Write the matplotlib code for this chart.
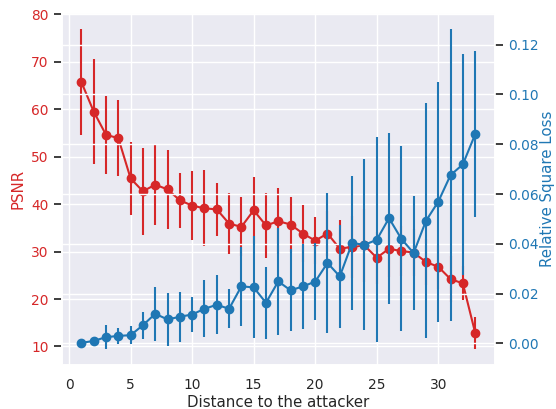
"""
PSNR and relative square loss vs. distance to the attacker (twin y axes).
"""
import matplotlib
matplotlib.use("Agg")
import matplotlib.pyplot as plt
import seaborn as sns

distance = list(range(1, 34))

psnr_mean = [65.7, 59.5, 54.6, 53.9, 45.4, 42.7, 44.1, 43.1, 40.8, 39.7,
             39.1, 38.9, 35.9, 35.2, 38.7, 35.5, 36.4, 35.7, 33.8, 32.3,
             33.8, 30.6, 31.0, 31.3, 28.7, 30.6, 30.1, 29.8, 27.8, 26.8,
             24.2, 23.3, 12.9]
psnr_std = [11.1, 11.0, 8.2, 8.0, 7.7, 9.2, 8.4, 8.4, 5.8, 7.2,
            8.0, 5.6, 6.5, 6.2, 7.0, 6.9, 6.9, 5.8, 6.1, 5.0,
            4.8, 6.0, 6.5, 7.7, 5.5, 6.0, 5.3, 5.0, 4.8, 4.6,
            4.8, 3.6, 3.4]

rsl_mean = [0.0002, 0.0010, 0.0025, 0.0030, 0.0033, 0.0073, 0.0119, 0.0096,
            0.0107, 0.0116, 0.0139, 0.0155, 0.0139, 0.0229, 0.0225, 0.0163,
            0.0249, 0.0213, 0.0229, 0.0248, 0.0323, 0.0269, 0.0403, 0.0396,
            0.0416, 0.0503, 0.0420, 0.0363, 0.0492, 0.0569, 0.0676, 0.0719,
            0.0840]
rsl_std = [0.0008, 0.0012, 0.0047, 0.0033, 0.0036, 0.0054, 0.0109, 0.0105,
           0.0101, 0.0072, 0.0114, 0.0119, 0.0078, 0.0158, 0.0205, 0.0145,
           0.0214, 0.0165, 0.0170, 0.0155, 0.0280, 0.0208, 0.0270, 0.0343,
           0.0412, 0.0344, 0.0372, 0.0230, 0.0472, 0.0482, 0.0585, 0.0445,
           0.0334]

RED = "tab:red"
BLUE = "tab:blue"

sns.set_theme(style="darkgrid", font_scale=0.9)

fig, ax1 = plt.subplots(figsize=(5.56, 4.09), dpi=100)
fig.subplots_adjust(left=0.111, right=0.890, bottom=0.108, top=0.967)

ax1.errorbar(distance, psnr_mean, yerr=psnr_std, color=RED,
             marker="o", linewidth=1.5, elinewidth=1.5)
ax1.set_xlabel("Distance to the attacker", labelpad=2)
ax1.set_ylabel("PSNR", color=RED)
ax1.tick_params(axis="y", labelcolor=RED)

ax2 = ax1.twinx()
ax2.errorbar(distance, rsl_mean, yerr=rsl_std, color=BLUE,
             marker="o", linewidth=1.5, elinewidth=1.5)
ax2.set_ylabel("Relative Square Loss", color=BLUE, labelpad=1)
ax2.tick_params(axis="y", labelcolor=BLUE)
ax2.set_yticks([0.00, 0.02, 0.04, 0.06, 0.08, 0.10, 0.12])

fig.savefig("out.png", dpi=100)
plt.close(fig)
